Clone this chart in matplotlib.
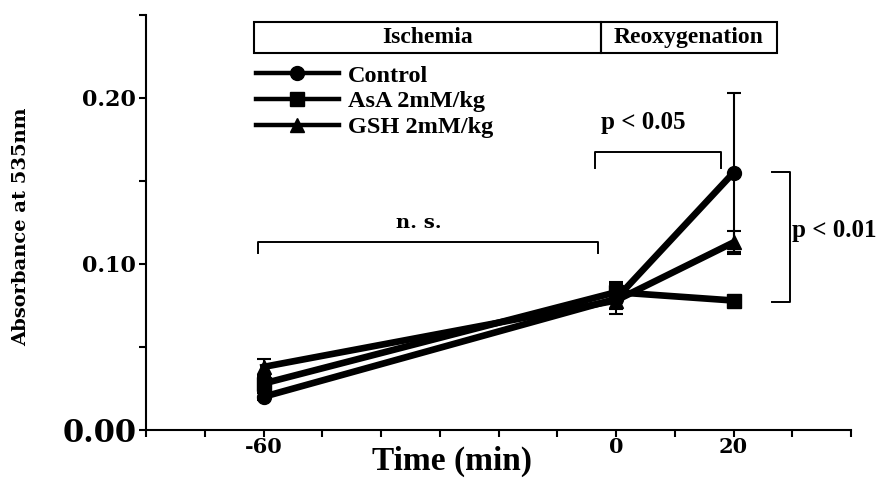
import matplotlib
matplotlib.use("Agg")
import matplotlib.pyplot as plt
from matplotlib.lines import Line2D
from matplotlib.patches import Rectangle

# ---------------- data ----------------
time_min = [-60, 0, 20]
control = [0.020, 0.079, 0.155]
control_err = [0.002, 0.009, 0.048]
asa = [0.028, 0.083, 0.078]
asa_err = [0.004, 0.006, 0.003]
gsh = [0.038, 0.078, 0.113]
gsh_err = [0.005, 0.005, 0.007]
series_labels = ["Control", "AsA 2mM/kg", "GSH 2mM/kg"]
xtick_vals = [-60, 0, 20]
xtick_labels = ["-60", "0", "20"]
ytick_vals = [0.00, 0.10, 0.20]
ytick_labels = ["0.00", "0.10", "0.20"]
phase_labels = ["Ischemia", "Reoxygenation"]
sig_labels = ["n. s.", "p < 0.05", "p < 0.01"]

TIMES = "Liberation Serif"
SLAB = "DejaVu Serif"

fig = plt.figure(figsize=(8.82, 4.9), dpi=100)
ax = fig.add_axes([146 / 882, 1 - 430 / 490, 705 / 882, 415 / 490])
ax.set_xlim(-80, 40)
ax.set_ylim(0, 0.25)

for sp in ["top", "right"]:
    ax.spines[sp].set_visible(False)
for sp in ["left", "bottom"]:
    ax.spines[sp].set_linewidth(1.5)

markers = ["o", "s", "^"]
msizes = [10, 9.5, 10.5]
data = [(control, control_err), (asa, asa_err), (gsh, gsh_err)]
for (vals, err), m, ms in zip(data, markers, msizes):
    ax.errorbar(time_min, vals, yerr=err, fmt="-", marker=m, ms=ms,
                color="black", lw=4.8, elinewidth=1.5, capsize=5,
                capthick=1.5, zorder=3)

# ticks
ax.set_xticks(xtick_vals)
ax.set_xticklabels(xtick_labels, fontfamily=SLAB, fontweight="bold",
                   fontsize=15)
ax.set_xticks(list(range(-80, 41, 10)), minor=True)
ax.set_yticks(ytick_vals)
ax.set_yticklabels(ytick_labels, fontfamily=SLAB, fontweight="bold",
                   fontsize=16)
ax.set_yticks([0.05, 0.15, 0.25], minor=True)
ax.yaxis.get_ticklabels()[0].set_fontsize(22)
ax.tick_params(axis="both", which="both", direction="out", length=5,
               width=1.5, color="black")
ax.tick_params(axis="x", pad=0)
ax.tick_params(axis="y", pad=2)

# axis labels
ax.set_xlabel("Time (min)", fontfamily=TIMES, fontweight="bold", fontsize=24)
ax.xaxis.set_label_coords(0.434, -0.038)
ax.set_ylabel("Absorbance at 535nm", fontfamily=SLAB,
              fontweight="bold", fontsize=14)
ax.yaxis.set_label_coords(-0.165, 0.49)

# phase header boxes
box_x0, box_mid, box_x1 = -61.6, -2.55, 27.4
box_y0, box_y1 = 0.2271, 0.2458
ax.add_patch(Rectangle((box_x0, box_y0), box_mid - box_x0, box_y1 - box_y0,
                       fill=False, lw=1.5, ec="black", clip_on=False))
ax.add_patch(Rectangle((box_mid, box_y0), box_x1 - box_mid, box_y1 - box_y0,
                       fill=False, lw=1.5, ec="black", clip_on=False))
ax.text((box_x0 + box_mid) / 2, (box_y0 + box_y1) / 2, phase_labels[0],
        ha="center", va="center", fontfamily=TIMES, fontweight="bold",
        fontsize=17)
ax.text((box_mid + box_x1) / 2, (box_y0 + box_y1) / 2, phase_labels[1],
        ha="center", va="center", fontfamily=TIMES, fontweight="bold",
        fontsize=17)

# legend
handles = [Line2D([], [], color="black", lw=3.2, marker=m, ms=ms)
           for m, ms in zip(markers, msizes)]
leg = ax.legend(handles, series_labels, loc="upper left",
                bbox_to_anchor=(0.156, 0.88), frameon=False,
                prop={"family": TIMES, "weight": "bold", "size": 17.5},
                handlelength=3.4, handletextpad=0.4, labelspacing=0.15,
                borderpad=0, borderaxespad=0)

# significance brackets
lw_b = 1.4
# n.s.
ax.plot([-61, -61, -3, -3], [0.1066, 0.1133, 0.1133, 0.1066], color="black", lw=lw_b)
ax.text(-33.5, 0.119, sig_labels[0], ha="center", va="bottom",
        fontfamily=SLAB, fontweight="bold", fontsize=14)
# p < 0.05
ax.plot([-3.6, -3.6, 17.9, 17.9], [0.158, 0.1675, 0.1675, 0.158], color="black", lw=lw_b)
ax.text(4.6, 0.1855, sig_labels[1], ha="center", va="center",
        fontfamily=TIMES, fontweight="bold", fontsize=18)
# p < 0.01
ax.plot([26.5, 29.6, 29.6, 26.5], [0.1554, 0.1554, 0.0771, 0.0771], color="black",
        lw=lw_b, clip_on=False)
ax.text(29.9, 0.120, sig_labels[2], ha="left", va="center",
        fontfamily=TIMES, fontweight="bold", fontsize=18, clip_on=False)

fig.savefig("out.png", dpi=100)
